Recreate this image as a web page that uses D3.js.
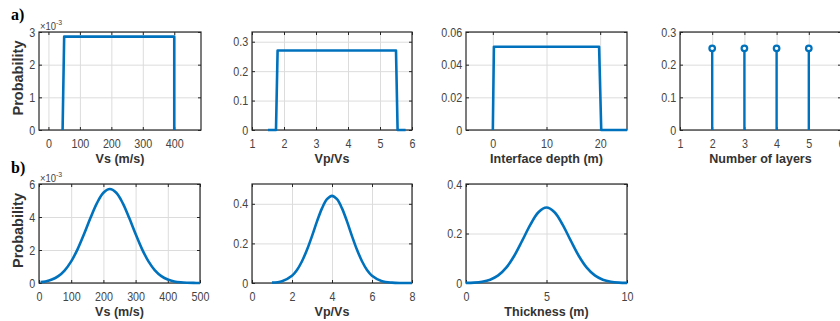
<!DOCTYPE html>
<html>
<head>
<meta charset="utf-8">
<script src="https://cdn.jsdelivr.net/npm/d3@7"></script>
<style>
  body { margin: 0; background: #fff; }
  svg { display: block; }
</style>
</head>
<body>
<div id="chart"></div>
<script>
// a) uniform priors
const vsPriorX = [45, 50, 400, 400];
const vsPriorY = [0, 0.002857, 0.002857, 0];
const vpvsPriorX = [1.5, 1.75, 1.8, 5.5, 5.55, 5.8];
const vpvsPriorY = [0, 0, 0.27, 0.27, 0, 0];
const depthPriorX = [0, 0.2, 19.8, 20.2, 25];
const depthPriorY = [0, 0.051, 0.051, 0, 0];
const layerCounts = [2, 3, 4, 5];
const layerProbs = [0.25, 0.25, 0.25, 0.25];

// b) gaussian priors
const vsGaussX = [5, 20, 40, 60, 80, 100, 120, 140, 160, 180, 200, 220, 240, 260, 280, 300, 320, 340, 360, 380, 400, 420, 440, 460, 480, 500];
const vsGaussY = [0.000051, 0.000096, 0.000209, 0.000418, 0.000771, 0.001311, 0.002054, 0.002967, 0.003948, 0.004842, 0.005472, 0.0057,
                  0.005472, 0.004842, 0.003948, 0.002967, 0.002054, 0.001311, 0.000771, 0.000418, 0.000209, 0.000096, 0.000041, 0.000016, 0.000005, 0.000001];
const vpvsGaussX = [1, 1.5, 2, 2.25, 2.5, 2.75, 3, 3.25, 3.5, 3.75, 4, 4.25, 4.5, 4.75, 5, 5.25, 5.5, 5.75, 6, 6.5, 7, 7.5, 8];
const vpvsGaussY = [0.0017, 0.0093, 0.037, 0.066, 0.11, 0.168, 0.237, 0.311, 0.377, 0.423, 0.44, 0.423, 0.377, 0.311, 0.237, 0.168, 0.11, 0.066, 0.037, 0.0093, 0.0017, 0.0002, 0];
const thickGaussX = [0, 0.5, 1, 1.5, 2, 2.5, 3, 3.5, 4, 4.5, 5, 5.5, 6, 6.5, 7, 7.5, 8, 8.5, 9, 9.5, 10];
const thickGaussY = [0.0005, 0.0017, 0.0052, 0.0134, 0.0307, 0.062, 0.11, 0.172, 0.236, 0.286, 0.305, 0.286, 0.236, 0.172, 0.11, 0.062, 0.0307, 0.0134, 0.0052, 0.0017, 0.0005];

// axis setup
const panels = [
  { left: 39, top: 32, w: 162, h: 98, xDom: [-30, 485], yDom: [0, 0.003], xTicks: [0, 100, 200, 300, 400], yTicks: [0, 0.001, 0.002, 0.003],
    yFmt: d => d3.format("d")(d * 1000), exp: true, xLabel: "Vs (m/s)", yLabel: true, xs: vsPriorX, ys: vsPriorY, kind: "step" },
  { left: 252, top: 32, w: 160, h: 98, xDom: [1, 6], yDom: [0, 0.333], xTicks: [1, 2, 3, 4, 5, 6], yTicks: [0, 0.1, 0.2, 0.3],
    yFmt: d => d === 0 ? "0" : d3.format(".1f")(d), xLabel: "Vp/Vs", xs: vpvsPriorX, ys: vpvsPriorY, kind: "step" },
  { left: 466, top: 32, w: 161, h: 98, xDom: [-5, 25], yDom: [0, 0.06], xTicks: [0, 10, 20], yTicks: [0, 0.02, 0.04, 0.06],
    yFmt: d => d === 0 ? "0" : d3.format(".2f")(d), xLabel: "Interface depth (m)", xs: depthPriorX, ys: depthPriorY, kind: "step" },
  { left: 680, top: 32, w: 161, h: 98, xDom: [1, 6], yDom: [0, 0.3], xTicks: [1, 2, 3, 4, 5, 6], yTicks: [0, 0.1, 0.2, 0.3],
    yFmt: d => d === 0 ? "0" : d3.format(".1f")(d), xLabel: "Number of layers", xs: layerCounts, ys: layerProbs, kind: "stem" },
  { left: 39, top: 184, w: 161, h: 99, xDom: [0, 500], yDom: [0, 0.006], xTicks: [0, 100, 200, 300, 400, 500], yTicks: [0, 0.002, 0.004, 0.006],
    yFmt: d => d3.format("d")(d * 1000), exp: true, xLabel: "Vs (m/s)", yLabel: true, xs: vsGaussX, ys: vsGaussY, kind: "curve" },
  { left: 252, top: 184, w: 160, h: 99, xDom: [0, 8], yDom: [0, 0.5], xTicks: [0, 2, 4, 6, 8], yTicks: [0, 0.2, 0.4],
    yFmt: d => d === 0 ? "0" : d3.format(".1f")(d), xLabel: "Vp/Vs", xs: vpvsGaussX, ys: vpvsGaussY, kind: "curve" },
  { left: 466, top: 184, w: 161, h: 99, xDom: [0, 10], yDom: [0, 0.4], xTicks: [0, 5, 10], yTicks: [0, 0.2, 0.4],
    yFmt: d => d === 0 ? "0" : d3.format(".1f")(d), xLabel: "Thickness (m)", xs: thickGaussX, ys: thickGaussY, kind: "curve" }
];

const blue = "#0072BD";
const axisColor = "#262626";
const labelColor = "#444";
const sansFont = "'Liberation Sans', Arial, sans-serif";
const serifFont = "'Liberation Serif', 'Times New Roman', serif";
const sx = 0.86;

const svg = d3.select("#chart").append("svg")
    .attr("width", 840)
    .attr("height", 321);

function drawPanel(p) {
    const g = svg.append("g").attr("transform", "translate(" + p.left + "," + p.top + ")");
    const x = d3.scaleLinear().domain(p.xDom).range([0, p.w]);
    const y = d3.scaleLinear().domain(p.yDom).range([p.h, 0]);

    // grid
    g.append("g")
        .attr("transform", "translate(0," + p.h + ")")
        .call(d3.axisBottom(x).tickValues(p.xTicks).tickSize(-p.h).tickFormat(""))
        .call(a => a.select(".domain").remove())
        .call(a => a.selectAll("line").attr("stroke", "#dcdcdc").attr("stroke-width", 1));
    g.append("g")
        .call(d3.axisLeft(y).tickValues(p.yTicks).tickSize(-p.w).tickFormat(""))
        .call(a => a.select(".domain").remove())
        .call(a => a.selectAll("line").attr("stroke", "#dcdcdc").attr("stroke-width", 1));

    // inner tick marks on all sides
    const tk = 3;
    g.append("g").attr("transform", "translate(0," + p.h + ")")
        .call(d3.axisBottom(x).tickValues(p.xTicks).tickSize(-tk).tickFormat(""))
        .call(a => a.select(".domain").remove())
        .call(a => a.selectAll("line").attr("stroke", axisColor));
    g.append("g")
        .call(d3.axisTop(x).tickValues(p.xTicks).tickSize(-tk).tickFormat(""))
        .call(a => a.select(".domain").remove())
        .call(a => a.selectAll("line").attr("stroke", axisColor));
    g.append("g")
        .call(d3.axisLeft(y).tickValues(p.yTicks).tickSize(-tk).tickFormat(""))
        .call(a => a.select(".domain").remove())
        .call(a => a.selectAll("line").attr("stroke", axisColor));
    g.append("g").attr("transform", "translate(" + p.w + ",0)")
        .call(d3.axisRight(y).tickValues(p.yTicks).tickSize(-tk).tickFormat(""))
        .call(a => a.select(".domain").remove())
        .call(a => a.selectAll("line").attr("stroke", axisColor));

    // box
    g.append("rect")
        .attr("x", 0).attr("y", 0)
        .attr("width", p.w).attr("height", p.h)
        .attr("fill", "none")
        .attr("stroke", axisColor)
        .attr("stroke-width", 1.2);

    // tick labels
    g.append("g").attr("transform", "translate(0," + p.h + ")")
        .call(d3.axisBottom(x).tickValues(p.xTicks).tickSize(0).tickPadding(9).tickFormat(d3.format("~g")))
        .call(a => a.select(".domain").remove())
        .call(a => a.selectAll("text")
            .attr("font-size", "12.5px")
            .attr("font-family", sansFont)
            .attr("fill", labelColor)
            .attr("transform", "scale(" + sx + ",1)"));
    g.append("g")
        .call(d3.axisLeft(y).tickValues(p.yTicks).tickSize(0).tickPadding(4.5).tickFormat(p.yFmt))
        .call(a => a.select(".domain").remove())
        .call(a => a.selectAll("text")
            .attr("font-size", "12.5px")
            .attr("font-family", sansFont)
            .attr("fill", labelColor)
            .attr("transform", "scale(" + sx + ",1)"));

    // data
    const pts = p.xs.map((v, i) => [v, p.ys[i]]);
    if (p.kind === "stem") {
        g.selectAll(".stem").data(pts).enter().append("line")
            .attr("x1", d => x(d[0])).attr("x2", d => x(d[0]))
            .attr("y1", y(0)).attr("y2", d => y(d[1]))
            .attr("stroke", blue).attr("stroke-width", 2.4);
        g.selectAll(".mark").data(pts).enter().append("circle")
            .attr("cx", d => x(d[0])).attr("cy", d => y(d[1]))
            .attr("r", 2.8)
            .attr("fill", "#fff").attr("stroke", blue).attr("stroke-width", 2.2);
    } else {
        const line = d3.line()
            .x(d => x(d[0])).y(d => y(d[1]))
            .curve(p.kind === "curve" ? d3.curveCatmullRom : d3.curveLinear);
        g.append("path").datum(pts)
            .attr("d", line)
            .attr("fill", "none")
            .attr("stroke", blue)
            .attr("stroke-width", 2.6)
            .attr("stroke-linejoin", "round");
    }

    // x label
    svg.append("text")
        .attr("transform", "translate(" + (p.left + p.w / 2) + "," + (p.top + p.h + 33) + ") scale(0.93,1)")
        .attr("text-anchor", "middle")
        .style("font-family", sansFont)
        .attr("font-size", "13.5px")
        .attr("font-weight", "bold")
        .attr("fill", "#333")
        .text(p.xLabel);

    if (p.yLabel) {
        svg.append("text")
            .attr("transform", "translate(" + 22.5 + "," + (p.top + p.h / 2 - 3) + ") rotate(-90)")
            .attr("text-anchor", "middle")
            .style("font-family", sansFont)
            .attr("font-size", "14.5px")
            .attr("font-weight", "bold")
            .attr("fill", "#333")
            .text("Probability");
    }

    if (p.exp) {
        const t = svg.append("text")
            .attr("transform", "translate(" + (p.left + 1) + "," + (p.top - 2) + ") scale(" + sx + ",1)")
            .style("font-family", sansFont)
            .attr("font-size", "11px")
            .attr("fill", labelColor);
        t.append("tspan").text("\u00d710");
        t.append("tspan").attr("font-size", "8px").attr("dy", -5).text("-3");
    }
}

panels.forEach(drawPanel);

// panel letters
svg.append("text").attr("x", 11).attr("y", 20)
    .style("font-family", serifFont)
    .attr("font-size", "16px").attr("font-weight", "bold").text("a)");
svg.append("text").attr("x", 11).attr("y", 173)
    .style("font-family", serifFont)
    .attr("font-size", "16px").attr("font-weight", "bold").text("b)");
</script>
</body>
</html>
